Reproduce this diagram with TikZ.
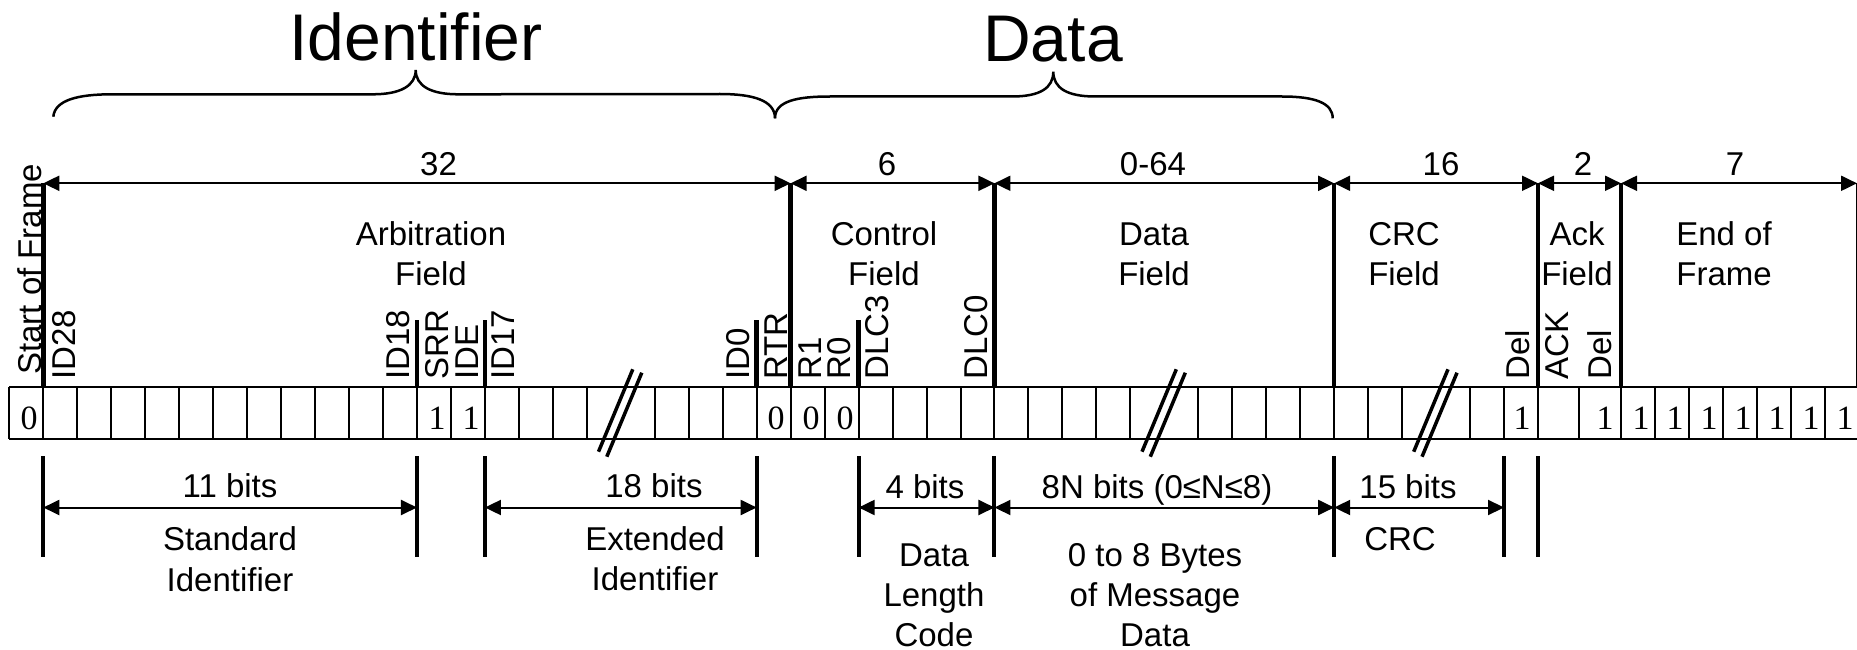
\documentclass[tikz,border=0pt]{standalone}
\usepackage{fontspec}
\setmainfont{Liberation Sans}
\newfontfamily\bitfont{Liberation Serif}
\usetikzlibrary{arrows.meta}
\newcommand\bx[1]{43.3+#1*33.97}
\begin{document}
\begin{tikzpicture}[x=1pt,y=-1pt,
  lbl/.style={font=\fontsize{33}{40}\selectfont, inner sep=0pt, anchor=base},
  rlbl/.style={font=\fontsize{33}{40}\selectfont, inner sep=0pt, rotate=90, anchor=west},
  bitv/.style={font=\bitfont\fontsize{34}{40}\selectfont, inner sep=0pt, anchor=base},
  titl/.style={font=\fontsize{66}{70}\selectfont, inner sep=0pt, anchor=base},
  divider/.style={line width=4.5pt},
  cellln/.style={line width=2pt},
  dimar/.style={line width=2pt, {Triangle[length=16pt,width=15pt]}-{Triangle[length=16pt,width=15pt]}},
  tickln/.style={line width=4pt},
  brk/.style={line width=3.5pt},
  brc/.style={line width=2.5pt}
]
\fill[white] (0,0) rectangle (1857,650);
\useasboundingbox (0,0) rectangle (1857,650);

% titles and braces
\node[titl] (tid) at (416,61) {Identifier};
\node[titl] (tdata) at (1053,61.7) {Data};
\draw[brc] (53.3,116.7) .. controls (55,100) and (78,94.3) .. (112,94.3) -- (373,94.3)
  .. controls (400,94.3) and (415.7,86) .. (415.7,70)
  .. controls (415.7,86) and (431,94.3) .. (458,94.3) -- (720,94)
  .. controls (752,94) and (775,100) .. (775,118.3);
\draw[brc] (775,118.3) .. controls (775,101) and (797,96.5) .. (830,96.5) -- (1012,96.5)
  .. controls (1040,96.5) and (1053.3,88) .. (1053.3,71.7)
  .. controls (1053.3,88) and (1067,96.5) .. (1095,96.5) -- (1282,96.5)
  .. controls (1315,96.5) and (1332.7,103) .. (1332.7,118.3);

% top dividers
\coordinate (dA) at ({\bx{0}},183.3);  \coordinate (dAb) at ({\bx{0}},387.3);
\coordinate (dB) at ({\bx{22}},183.3); \coordinate (dBb) at ({\bx{22}},387.3);
\coordinate (dC) at ({\bx{28}},183.3); \coordinate (dCb) at ({\bx{28}},387.3);
\coordinate (dD) at ({\bx{38}},183.3); \coordinate (dDb) at ({\bx{38}},387.3);
\coordinate (dE) at ({\bx{44}},183.3); \coordinate (dEb) at ({\bx{44}},387.3);
\coordinate (dF) at (1621,183.3);      \coordinate (dFb) at (1621,387.3);
\coordinate (dG) at (1858,183.3);      \coordinate (dGb) at (1858,387.3);
\coordinate (dGt) at (1857,183.3);
\foreach \p in {A,B,C,D,E,F,G} \draw[divider] (d\p) -- (d\p b);
\draw[dimar] (dA) -- (dB);
\draw[dimar] (dB) -- (dC);
\draw[dimar] (dC) -- (dD);
\draw[dimar] (dD) -- (dE);
\draw[dimar] (dE) -- (dF);
\draw[dimar] (dF) -- (dGt);

% medium lines
\foreach \k in {11,13,21,24} \draw[divider] ({\bx{\k}},320) -- ({\bx{\k}},387.3);

% numbers
\node[lbl] (n32) at (438.5,175.5) {32};
\node[lbl] (n6) at (887,175.5) {6};
\node[lbl] (n064) at (1153,175.5) {0-64};
\node[lbl] (n16) at (1441,175.5) {16};
\node[lbl] (n2) at (1583,175.5) {2};
\node[lbl] (n7) at (1735,175.5) {7};

% field labels
\node[lbl] (fa1) at (431,245) {Arbitration};
\node[lbl] (fa2) at (431,285) {Field};
\node[lbl] (fc1) at (884,245) {Control};
\node[lbl] (fc2) at (884,285) {Field};
\node[lbl] (fd1) at (1154,245) {Data};
\node[lbl] (fd2) at (1154,285) {Field};
\node[lbl] (fr1) at (1404,245) {CRC};
\node[lbl] (fr2) at (1404,285) {Field};
\node[lbl] (fk1) at (1577,245) {Ack};
\node[lbl] (fk2) at (1577,285) {Field};
\node[lbl] (fe1) at (1724,245) {End of};
\node[lbl] (fe2) at (1724,285) {Frame};

% rotated labels
\node[rlbl] (lsof) at (30,375) {Start of Frame};
\node[rlbl] (l28) at (64,380) {ID28};
\node[rlbl] (l18) at (398,380) {ID18};
\node[rlbl] (lsrr) at (437,380) {SRR};
\node[rlbl] (lide) at (467,380) {IDE};
\node[rlbl] (l17) at (503,380) {ID17};
\node[rlbl] (l0) at (738,380) {ID0};
\node[rlbl] (lrtr) at (776,380) {RTR};
\node[rlbl] (lr1) at (810,380) {R1};
\node[rlbl] (lr0) at (839,380) {R0};
\node[rlbl] (ldlc3) at (877,380) {DLC3};
\node[rlbl] (ldlc0) at (976,380) {DLC0};
\node[rlbl] (ldel1) at (1518,380) {Del};
\node[rlbl] (lack) at (1557,380) {ACK};
\node[rlbl] (ldel2) at (1600,380) {Del};

% bit row
\draw[cellln] (9,387.3) -- (1862,387.3);
\draw[cellln] (9,439) -- (1862,439);
\draw[cellln] (9,387.3) -- (9,439);
\foreach \k in {0,...,16,18,19,...,32,34,35,...,40,42,43,44}
  \draw[cellln] ({\bx{\k}},387.3) -- ({\bx{\k}},439);
\foreach \xx in {1578.7,1621,1655.05,1689.1,1723.15,1757.2,1791.25,1825.3}
  \draw[cellln] (\xx,387.3) -- (\xx,439);

% bit values
\node[bitv] (bsof) at (29,429) {0};
\node[bitv] (bsrr) at (437,429) {1};
\node[bitv] (bide) at (471,429) {1};
\node[bitv] (brtr) at (776,429) {0};
\node[bitv] (br1) at (811,429) {0};
\node[bitv] (br0) at (845,429) {0};
\node[bitv] (bcdel) at (1522,429) {1};
\node[bitv] (badel) at (1605,429) {1};
\foreach \xx [count=\i] in {1641,1675,1709,1743,1777,1811,1845}
  \node[bitv] (beof\i) at (\xx,429) {1};

% breaks
\foreach \cx in {620.8,1164.3,1436}{
  \draw[brk] (\cx-22.3,451.7) -- (\cx+12,369.3);
  \draw[brk] (\cx-14,456.7) -- (\cx+21,372.7);
}

% bottom ticks
\foreach \k/\nm in {0/a,11/b,13/c,21/d,24/e,28/f,38/g,43/h,44/i}{
  \coordinate (t\nm t) at ({\bx{\k}},456);
  \coordinate (t\nm b) at ({\bx{\k}},557);
  \coordinate (t\nm) at ({\bx{\k}},507.5);
  \draw[tickln] (t\nm t) -- (t\nm b);
}
\draw[dimar] (ta) -- (tb);
\draw[dimar] (tc) -- (td);
\draw[dimar] (te) -- (tf);
\draw[dimar] (tf) -- (tg);
\draw[dimar] (tg) -- (th);

% bottom labels
\node[lbl] (b11) at (230,497.5) {11 bits};
\node[lbl] (bst1) at (230,550) {Standard};
\node[lbl] (bst2) at (230,591.7) {Identifier};
\node[lbl] (b18) at (654,497.5) {18 bits};
\node[lbl] (bex1) at (655,550) {Extended};
\node[lbl] (bex2) at (655,590) {Identifier};
\node[lbl] (b4) at (925,498) {4 bits};
\node[lbl] (bdl1) at (934,566.7) {Data};
\node[lbl] (bdl2) at (934,606.7) {Length};
\node[lbl] (bdl3) at (934,646.7) {Code};
\node[lbl] (b8n) at (1157,498) {8N bits (0≤N≤8)};
\node[lbl] (bmd1) at (1155,566.7) {0 to 8 Bytes};
\node[lbl] (bmd2) at (1155,606.7) {of Message};
\node[lbl] (bmd3) at (1155,646.7) {Data};
\node[lbl] (b15) at (1408,498) {15 bits};
\node[lbl] (bcrc) at (1400,550) {CRC};
\end{tikzpicture}
\end{document}
